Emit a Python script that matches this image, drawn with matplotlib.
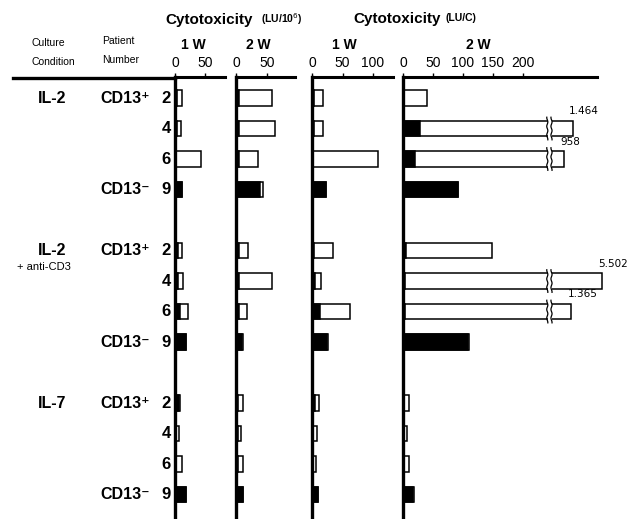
import numpy as np
import matplotlib
matplotlib.use("Agg")
import matplotlib.pyplot as plt
from matplotlib import transforms
from matplotlib.patches import Rectangle

plt.rcParams['font.family'] = ['Liberation Sans', 'DejaVu Sans']

# rows: IL-2 / IL-2 + anti-CD3 / IL-7, patients 2, 4, 6 (CD13+) and 9 (CD13-)
patients = ['2', '4', '6', '9']
conditions = ['IL-2', 'IL-2', 'IL-7']
row_pos = [0, 1, 2, 3, 5, 6, 7, 8, 10, 11, 12, 13]

# LU/10^6, 1 week
lu6_1w_total = [12, 10, 44, 12, 12, 13, 21, 18, 9, 7, 11, 18]
lu6_1w_black = [3, 3, 2, 12, 5, 5, 8, 18, 7, 2, 2, 18]
# LU/10^6, 2 weeks
lu6_2w_total = [58, 63, 35, 43, 19, 58, 18, 12, 11, 8, 11, 12]
lu6_2w_black = [5, 5, 5, 39, 5, 5, 5, 10, 4, 3, 3, 12]
# LU/C, 1 week
luc_1w_total = [18, 18, 109, 23, 35, 14, 63, 27, 12, 8, 6, 10]
luc_1w_black = [4, 3, 2, 23, 3, 5, 13, 24, 5, 2, 2, 10]
# LU/C, 2 weeks
luc_2w_total = [40, 1464, 958, 92, 149, 5502, 1365, 110, 10, 6, 10, 19]
luc_2w_black = [2, 28, 20, 92, 5, 4, 4, 108, 2, 2, 2, 17]

W, H = 628, 519
fig = plt.figure(figsize=(W / 100, H / 100), dpi=100)

TOP = 77          # pixel row of the top axis line
ROW0, STEP = 98, 30.5
ylim = (13.8, (TOP - ROW0) / STEP)

# (zero px, px per unit, right end px, ticks, week label, week label x)
panels = [
    (175, 0.60, 225, [0, 50], '1 W', 193, lu6_1w_total, lu6_1w_black),
    (236, 0.62, 295, [0, 50], '2 W', 258, lu6_2w_total, lu6_2w_black),
    (312, 0.61, 393, [0, 50, 100], '1 W', 344, luc_1w_total, luc_1w_black),
    (403, 0.60, 597, [0, 50, 100, 150, 200], '2 W', 478, luc_2w_total, luc_2w_black),
]

BRK = 245  # axis break on the last panel


def shown(v):
    # values beyond the break are drawn on a compressed scale
    return v if v <= BRK else BRK + 84 * np.log10(v / 514)


def wavy(ax, x, y, h):
    yy = np.linspace(y - h / 2 - 0.12, y + h / 2 + 0.12, 40)
    xx = x + 0.9 * np.sin((yy - y) * 22)
    ax.plot(xx, yy, color='black', lw=0.9, clip_on=False, zorder=5)


axes = []
for x0, sc, xr, ticks, wk, wkx, total, black in panels:
    ax = fig.add_axes([x0 / W, 0, (xr - x0) / W, (H - TOP) / H])
    ax.set_xlim(0, (xr - x0) / sc)
    ax.set_ylim(*ylim)
    ax.patch.set_visible(False)
    for s in ['right', 'bottom']:
        ax.spines[s].set_visible(False)
    ax.spines['top'].set_linewidth(2.2)
    ax.spines['left'].set_linewidth(2.4)
    ax.xaxis.tick_top()
    ax.set_xticks(ticks)
    ax.tick_params(axis='x', direction='out', length=3, width=1, pad=2, labelsize=10)
    ax.set_yticks([])
    h = 0.5
    for y, t, b in zip(row_pos, total, black):
        ax.barh(y, shown(t), height=h, color='white', edgecolor='black', lw=1.1,
                zorder=2, clip_on=False)
        ax.barh(y, b, height=h, color='black', edgecolor='black', lw=1.1,
                zorder=3, clip_on=False)
        if t > BRK:
            ax.add_patch(Rectangle((BRK - 4, y - h / 2 - 0.04), 7, h + 0.08,
                                   color='white', zorder=4, lw=0, clip_on=False))
            wavy(ax, BRK - 4.5, y, h)
            wavy(ax, BRK + 2.5, y, h)
            lab = f"{t:,}".replace(',', '.')
            ax.text(shown(t) - 6, y - h / 2 - 0.15, lab, fontsize=7.5,
                    family=['DejaVu Sans'], ha='left', va='bottom')
    fig.text(wkx / W, 1 - 45 / H, wk, ha='center', va='center',
             fontsize=10, fontweight='bold')
    axes.append(ax)

# top line continues left under the row headers
fig.add_artist(plt.Line2D([13 / W, 175 / W], [1 - 78.5 / H, 1 - 78.5 / H],
                          color='black', lw=2.4))

fig.text(165 / W, 1 - 20 / H, 'Cytotoxicity', fontsize=11, fontweight='bold',
         ha='left', va='center')
fig.text(261 / W, 1 - 19 / H, '(LU/10$^6$)', fontsize=7.5, fontweight='bold',
         ha='left', va='center')
fig.text(353 / W, 1 - 19 / H, 'Cytotoxicity', fontsize=11, fontweight='bold',
         ha='left', va='center')
fig.text(445 / W, 1 - 18 / H, '(LU/C)', fontsize=7.5, fontweight='bold',
         ha='left', va='center')

fig.text(32 / W, 1 - 43 / H, 'Culture', fontsize=7.5, ha='left', va='center')
fig.text(32 / W, 1 - 62 / H, 'Condition', fontsize=7.5, ha='left', va='center')
fig.text(102 / W, 1 - 41 / H, 'Patient', fontsize=7.5, ha='left', va='center')
fig.text(102 / W, 1 - 60 / H, 'Number', fontsize=7.5, ha='left', va='center')

tr = transforms.blended_transform_factory(fig.transFigure, axes[0].transData)
for g, cond in enumerate(conditions):
    first = row_pos[4 * g]
    fig.text(52 / W, first, cond, transform=tr, fontsize=11.5, fontweight='bold',
             ha='center', va='center')
    if g == 1:
        fig.text(17 / W, first + 0.55, '+ anti-CD3', transform=tr, fontsize=8,
                 ha='left', va='center')
    fig.text(100 / W, first, 'CD13\u207a', transform=tr, fontsize=11.5,
             fontweight='bold', ha='left', va='center')
    fig.text(100 / W, row_pos[4 * g + 3], 'CD13\u207b', transform=tr, fontsize=11.5,
             fontweight='bold', ha='left', va='center')
    for k, p in enumerate(patients):
        fig.text(171 / W, row_pos[4 * g + k], p, transform=tr, fontsize=12,
                 fontweight='bold', ha='right', va='center')

fig.savefig('out.png', dpi=100)
